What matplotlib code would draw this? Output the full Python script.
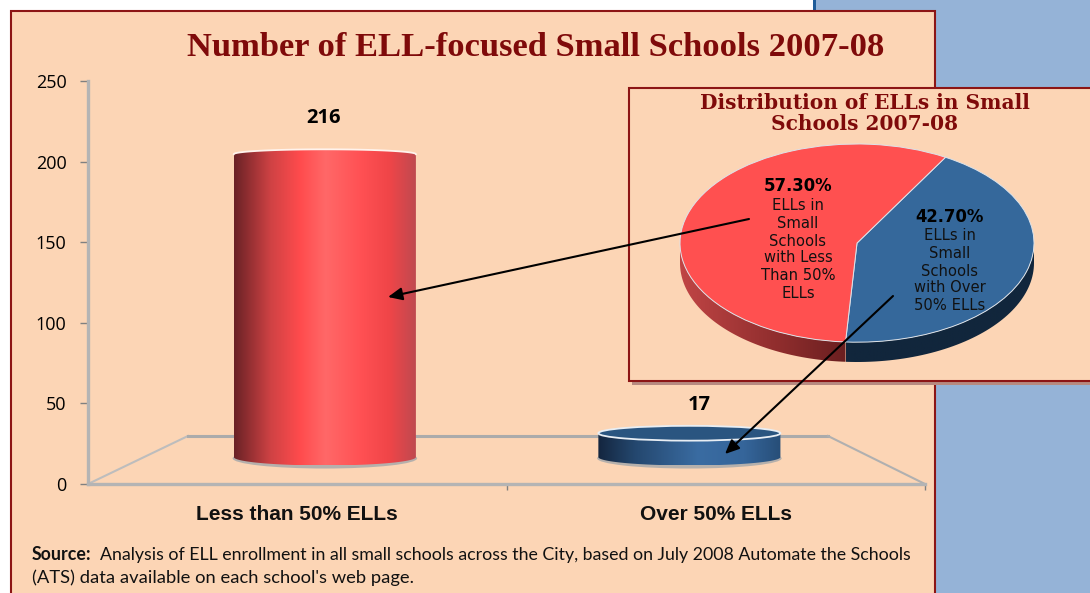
# -*- coding: utf-8 -*-
"""
Number of ELL-focused small schools 2007-08, fake 3D cylinders with a pie inset
"""

import numpy as np
import matplotlib
matplotlib.use("Agg")
import matplotlib.pyplot as plt
from matplotlib.colors import LinearSegmentedColormap
from matplotlib.patches import Ellipse, Polygon, Rectangle

W, H = 1090, 593

categories = ["Less than 50% ELLs", "Over 50% ELLs"]
school_counts = [216, 17]
y_ticks = [0, 50, 100, 150, 200, 250]

pie_shares = [42.70, 57.30]
pie_heads = ["42.70%", "57.30%"]
pie_lines = [
    ["ELLs in", "Small", "Schools", "with Over", "50% ELLs"],
    ["ELLs in", "Small", "Schools", "with Less", "Than 50%", "ELLs"],
]

main_title = "Number of ELL-focused Small Schools 2007-08"
inset_title = ["Distribution of ELLs in Small", "Schools 2007-08"]
source_bold = "Source:"
source_lines = [
    "Analysis of ELL enrollment in all small schools across the City, based on July 2008 Automate the Schools",
    "(ATS) data available on each school's web page.",
]

PEACH = "#FCD5B5"
SKY = "#95B3D7"
MAROON = "#8C1515"
TITLE_RED = "#7F0A0A"
AXIS_GREY = "#B4B4B4"
RED = "#FF5050"
BLUE = "#35689B"

RED_CMAP = LinearSegmentedColormap.from_list(
    "red_cyl",
    [(0, "#6A2226"), (0.2, "#CF4244"), (0.36, "#FF4B4D"), (0.5, "#FF6868"), (0.7, "#FF5053"), (0.85, "#F04548"), (1, "#BE4A50")],
)
BLUE_CMAP = LinearSegmentedColormap.from_list(
    "blue_cyl",
    [(0, "#14263F"), (0.2, "#24476E"), (0.55, "#3A6CA2"), (0.8, "#35659A"), (1, "#274E78")],
)
RED_WALL = LinearSegmentedColormap.from_list("red_wall", [(0, "#C04545"), (0.6, "#8F2D2D"), (1, "#6A1F20")])
BLUE_WALL = LinearSegmentedColormap.from_list("blue_wall", [(0, "#11263C"), (1, "#11263C")])


def px_axes(fig, x0, y0, x1, y1, **kw):
    # axes placed from image pixels, y counted from the top
    return fig.add_axes([x0 / W, 1 - y1 / H, (x1 - x0) / W, (y1 - y0) / H], **kw)


def gradient(ax, cmap, extent, clip_xy, zorder):
    im = ax.imshow(
        np.linspace(0, 1, 256).reshape(1, -1), cmap=cmap, extent=extent,
        aspect="auto", origin="lower", zorder=zorder,
    )
    im.set_clip_path(Polygon(clip_xy, closed=True, transform=ax.transData))


def draw_cylinder(ax, cx, value, cmap, top_arc, show_lid):
    half_w = 0.2175
    base = 16.7
    scale = 0.87
    bottom_arc = 5.2
    top = base + value * scale

    t = np.linspace(0, np.pi, 80)
    top_xy = np.column_stack([cx - half_w * np.cos(t), top + top_arc * np.sin(t)])
    bot_xy = np.column_stack([cx + half_w * np.cos(t), base - bottom_arc * np.sin(t)])
    outline = np.vstack([top_xy, bot_xy])

    ax.add_patch(Ellipse((cx, base - 0.8), 2 * half_w + 0.006, 2 * bottom_arc + 2.2, fc="#B5B0AC", ec="none", zorder=3))
    gradient(ax, cmap, (cx - half_w, cx + half_w, base - bottom_arc, top + top_arc), outline, 4)
    if show_lid:
        ax.add_patch(Ellipse((cx, top), 2 * half_w, 2 * top_arc, fc="#2A5580", ec="#E8EEF4", lw=1.3, zorder=5))
    else:
        ax.plot(top_xy[:, 0], top_xy[:, 1], color="#FFF3EC", lw=1.3, zorder=5)


def draw_main_chart(fig):
    ax = px_axes(fig, 88, 81, 925, 484)
    ax.patch.set_visible(False)

    for sp in ("top", "right"):
        ax.spines[sp].set_visible(False)
    for sp in ("left", "bottom"):
        ax.spines[sp].set_color(AXIS_GREY)
        ax.spines[sp].set_linewidth(2.4)

    # floor of the 3D box
    ax.plot([0, 0.239], [0, 29.8], color="#BDBDBD", lw=1.5, zorder=2, clip_on=False)
    ax.plot([0.239, 1.768], [29.8, 29.8], color="#ABABAB", lw=2.2, zorder=2, clip_on=False)
    ax.plot([1.768, 2], [29.8, 0], color="#B0B0B0", lw=1.5, zorder=2, clip_on=False)

    draw_cylinder(ax, 0.566, school_counts[0], RED_CMAP, 3.0, False)
    draw_cylinder(ax, 1.437, school_counts[1], BLUE_CMAP, 4.6, True)

    ax.set_xlim(0, 2)
    ax.set_ylim(0, 250)
    ax.set_yticks(y_ticks)
    ax.set_xticks([1, 2])
    ax.set_xticklabels([])
    ax.tick_params(axis="y", length=5.5, width=1, color="#808080", labelsize=13, pad=10, labelcolor="black")
    ax.tick_params(axis="x", length=4, width=1, color="#808080", direction="out")
    for lab in ax.get_yticklabels():
        lab.set_fontfamily("Open Sans")

    label_x = [0.5, 1.5]
    for x, name in zip(label_x, categories):
        ax.annotate(name, (x, 0), xytext=(0, -22), textcoords="offset points", ha="center", va="center",
                    fontfamily="Liberation Sans", fontweight="bold", fontsize=15, color="#111111",
                    annotation_clip=False)
    return ax


def draw_pie(fig):
    depth = 0.2
    ax = px_axes(fig, 680, 144, 1034, 362)
    ax.patch.set_visible(False)
    wedges, _ = ax.pie(pie_shares, startangle=60, counterclock=False, colors=[BLUE, RED], radius=1,
                       wedgeprops={"edgecolor": "#DDE3EA", "linewidth": 0.7, "zorder": 3})

    split = np.deg2rad(60 - 3.6 * pie_shares[0])
    # red side wall goes from the left rim to the split, blue from the split to the right rim
    t_red = np.linspace(np.pi, 2 * np.pi + split, 80)
    t_blue = np.linspace(split, 0, 60)
    for t, cmap in ((t_red, RED_WALL), (t_blue, BLUE_WALL)):
        x, y = np.cos(t), np.sin(t)
        xy = np.vstack([np.column_stack([x, y]), np.column_stack([x[::-1], y[::-1] - depth])])
        gradient(ax, cmap, (x.min(), x.max(), -1 - depth, 0.1), xy, 2)

    ax.set_aspect("auto")
    ax.set_xlim(-1, 1)
    ax.set_ylim(-1 - depth, 1)
    for p in wedges:
        p.set_clip_on(False)
    ax.set_frame_on(False)
    return ax


def draw_overlay(fig):
    # page shapes and free text sit in one pixel-scaled layer
    back = px_axes(fig, 0, 0, W, H, zorder=-1)
    back.set_xlim(0, W)
    back.set_ylim(H, 0)
    back.axis("off")
    back.add_patch(Rectangle((815, 0), W - 815, H, fc=SKY, ec="none"))
    back.add_patch(Rectangle((813, 0), 3, 12, fc="#1F5C99", ec="none"))
    back.add_patch(Rectangle((11, 11), 924, H, fc=PEACH, ec=MAROON, lw=1.5))

    top = px_axes(fig, 0, 0, W, H, zorder=5)
    top.set_xlim(0, W)
    top.set_ylim(H, 0)
    top.axis("off")
    top.patch.set_visible(False)

    top.text(536, 48, main_title, ha="center", va="center", fontfamily="Liberation Serif",
             fontweight="bold", fontsize=24.8, color=TITLE_RED)

    for x, y, v in zip((324, 699), (118, 405), school_counts):
        top.text(x, y, str(v), ha="center", va="center", fontfamily="Open Sans", fontweight="bold",
                 fontsize=14.5, color="black")

    top.text(32, 555, source_bold, ha="left", va="center", fontfamily="Lato", fontweight="bold", fontsize=12.8, color="#111111")
    top.text(100, 555, source_lines[0], ha="left", va="center", fontfamily="Lato", fontsize=12.8, color="#111111")
    top.text(32, 578, source_lines[1], ha="left", va="center", fontfamily="Lato", fontsize=13.2, color="#111111")

    for y, line in zip((103, 124), inset_title):
        top.text(865, y, line, ha="center", va="center", fontfamily="DejaVu Serif", fontweight="bold",
                 fontsize=14.5, color=TITLE_RED)

    label_pos = [(950, 217, (235, 253, 271, 288, 306)), (798, 186, (205, 223, 241, 257, 275, 294))]
    for (x, y_head, ys), head, lines in zip(label_pos, pie_heads, pie_lines):
        top.text(x, y_head, head, ha="center", va="center", fontfamily="DejaVu Sans", fontweight="bold",
                 fontsize=11.9, color="black")
        for y, line in zip(ys, lines):
            top.text(x, y, line, ha="center", va="center", fontfamily="DejaVu Sans", fontsize=10.6, color="#111111")

    for tail, tip in (((749, 219), (388, 297)), ((893, 296), (725, 454))):
        top.annotate("", xy=tip, xytext=tail,
                     arrowprops=dict(arrowstyle="-|>,head_length=0.85,head_width=0.38", color="black", lw=1.5,
                                     shrinkA=0, shrinkB=0))


def draw_inset_panel(fig):
    ax = px_axes(fig, 0, 0, W, H, zorder=1)
    ax.set_xlim(0, W)
    ax.set_ylim(H, 0)
    ax.axis("off")
    ax.patch.set_visible(False)
    ax.add_patch(Rectangle((632, 90), W, 295, fc="#B78A80", ec="none"))
    ax.add_patch(Rectangle((629, 88), W, 293, fc=PEACH, ec=MAROON, lw=1.5))


def main():
    fig = plt.figure(figsize=(W / 100, H / 100), dpi=100, facecolor="white")
    draw_overlay(fig)
    draw_main_chart(fig).set_zorder(0)
    draw_inset_panel(fig)
    draw_pie(fig).set_zorder(2)
    fig.savefig("out.png", dpi=100)


if __name__ == "__main__":
    main()
